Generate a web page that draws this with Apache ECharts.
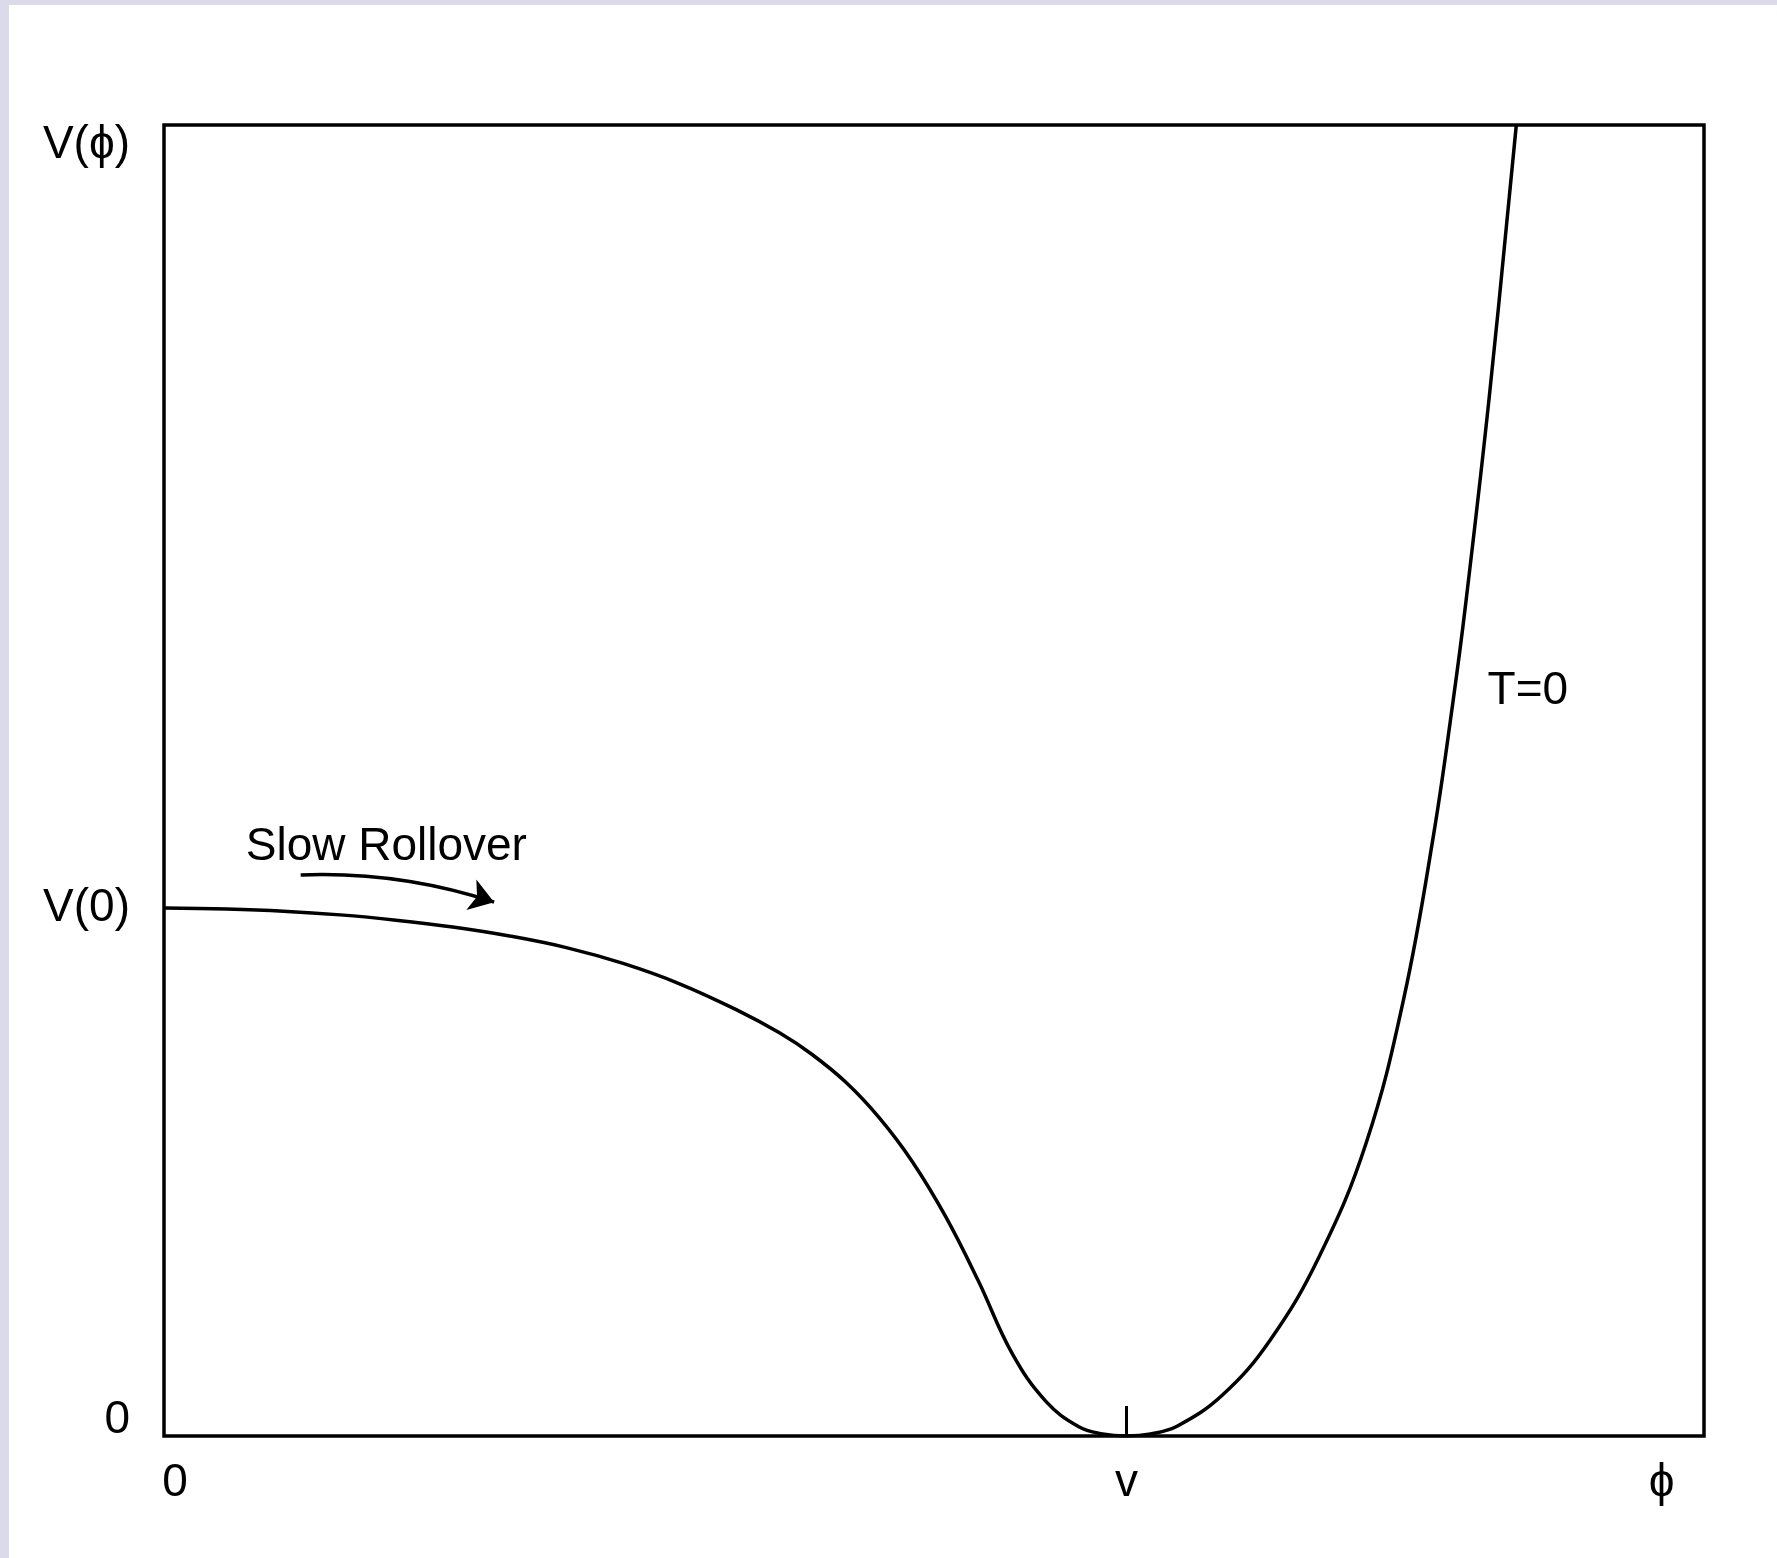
<!DOCTYPE html>
<html>
<head>
<meta charset="utf-8">
<title>V(ϕ) – slow rollover potential</title>
<script src="https://cdn.jsdelivr.net/npm/echarts@6/dist/echarts.min.js"></script>
<style>
  html, body { margin: 0; padding: 0; background: #ffffff; }
  #chart { width: 1777px; height: 1558px; }
</style>
</head>
<body>
<div id="chart"></div>
<script>
// Field value ϕ in units of the vacuum value v
const phi = [0.000, 0.065, 0.124, 0.183, 0.241, 0.300, 0.359, 0.418, 0.477, 0.535,
             0.594, 0.639, 0.673, 0.709, 0.743, 0.777, 0.812, 0.846, 0.881, 0.916,
             0.950, 0.975, 1.000, 1.025, 1.053, 1.100, 1.149, 1.200, 1.249, 1.288,
             1.319, 1.339, 1.352, 1.377, 1.405];
// Zero-temperature potential V(ϕ) in units of V(0)
const potential = [1.000, 0.998, 0.994, 0.987, 0.977, 0.964, 0.947, 0.925, 0.895, 0.857,
                   0.808, 0.764, 0.723, 0.669, 0.603, 0.521, 0.416, 0.294, 0.157, 0.066,
                   0.018, 0.004, 0.000, 0.004, 0.019, 0.078, 0.181, 0.339, 0.555, 0.828,
                   1.138, 1.388, 1.570, 1.970, 2.483];

// Axis extents and the labelled positions on each axis
const phiMax = 1.6;
const vMax = 2.483;
const xTickValues = [0, 1, 1.556];
const xTickLabels = ['0', 'v', 'ϕ'];
const xMarkedTicks = [1];
const yTickValues = [0, 1, 2.483];
const yTickLabels = ['0', 'V(0)', 'V(ϕ)'];

// Annotations: the rollover arrow (tail, head) and the text notes
const arrowTail = [0.142, 1.0625];
const arrowHead = [0.343, 1.011];
const noteNames = ['Slow Rollover', 'T=0'];
const notePositions = [[0.231, 1.115], [1.417, 1.410]];

const FONT = "'Liberation Sans', Arial, Helvetica, sans-serif";
const chart = echarts.init(document.getElementById('chart'), null, { renderer: 'canvas' });

const xLabelFor = v => {
  const i = xTickValues.findIndex(t => Math.abs(t - v) < 1e-6);
  if (i < 0) return '';
  return i === 0 ? '{zero|' + xTickLabels[i] + '}' : xTickLabels[i];
};
const yLabelFor = v => {
  const i = yTickValues.findIndex(t => Math.abs(t - v) < 1e-6);
  if (i < 0) return '';
  if (i === 0) return '{low|' + yTickLabels[i] + '}';
  if (i === yTickValues.length - 1) return '{high|' + yTickLabels[i] + '}';
  return yTickLabels[i];
};

chart.setOption({
  animation: false,
  backgroundColor: '#ffffff',
  graphic: [
    { type: 'rect', left: 0, top: 0, shape: { width: 9, height: 1558 }, style: { fill: '#dadaea' }, z: -10 },
    { type: 'rect', left: 0, top: 0, shape: { width: 1777, height: 5 }, style: { fill: '#dadaea' }, z: -10 }
  ],
  grid: {
    left: 164, top: 125, width: 1540, height: 1311,
    show: true, borderColor: '#000', borderWidth: 3.5, backgroundColor: 'transparent',
    outerBoundsMode: 'none', containLabel: false
  },
  xAxis: {
    type: 'value', min: 0, max: phiMax,
    axisLine: { show: false },
    splitLine: { show: false },
    axisTick: {
      show: true, inside: true, length: 30, customValues: xMarkedTicks,
      lineStyle: { color: '#000', width: 3 }
    },
    axisLabel: {
      show: true, customValues: xTickValues, margin: 24,
      color: '#000', fontFamily: FONT, fontSize: 46,
      formatter: xLabelFor,
      rich: { zero: { color: '#000', fontFamily: FONT, fontSize: 46, padding: [0, 0, 0, 22] } }
    }
  },
  yAxis: {
    type: 'value', min: 0, max: vMax,
    axisLine: { show: false },
    splitLine: { show: false },
    axisTick: { show: false },
    axisLabel: {
      show: true, customValues: yTickValues, margin: 34,
      color: '#000', fontFamily: FONT, fontSize: 46,
      formatter: yLabelFor,
      rich: {
        low: { color: '#000', fontFamily: FONT, fontSize: 46, padding: [0, 0, 32, 0] },
        high: { color: '#000', fontFamily: FONT, fontSize: 46, padding: [40, 0, 0, 0] }
      }
    }
  },
  series: [
    {
      type: 'line',
      name: 'T=0',
      data: phi.map((x, i) => [x, potential[i]]),
      showSymbol: false,
      symbol: 'none',
      smooth: 0.4,
      clip: true,
      lineStyle: { color: '#000', width: 3.5 },
      markPoint: {
        silent: true,
        symbol: 'circle',
        symbolSize: 0,
        label: {
          show: true, position: 'inside', formatter: '{b}',
          color: '#000', fontFamily: FONT, fontSize: 46
        },
        data: noteNames.map((n, i) => ({ name: n, coord: notePositions[i] }))
      }
    },
    {
      // gently curved arrow under the "Slow Rollover" note
      type: 'lines',
      coordinateSystem: 'cartesian2d',
      silent: true,
      symbol: ['none', 'arrow'],
      symbolSize: [0, 24],
      lineStyle: { color: '#000', width: 3.5, opacity: 1, curveness: 0.09 },
      data: [{ coords: [arrowTail, arrowHead] }]
    }
  ]
});
</script>
</body>
</html>
